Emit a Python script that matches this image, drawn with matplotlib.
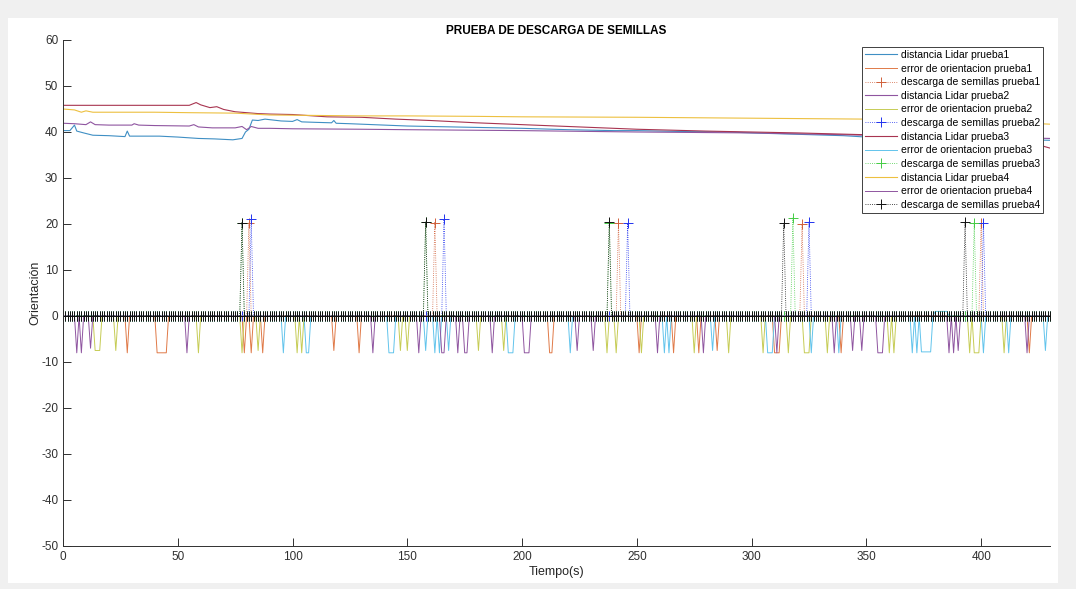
import numpy as np
import matplotlib
matplotlib.use("Agg")
import matplotlib.pyplot as plt
from matplotlib.patches import Rectangle

plt.rcParams['font.family'] = ['Liberation Sans', 'DejaVu Sans']
plt.rcParams['axes.unicode_minus'] = False

# tiempo de muestreo (s)
t = np.arange(0, 431)

# distancia lidar: puntos (tiempo, distancia)
lidar1_t = [0, 3, 5, 6, 9, 13, 20, 27, 28, 29, 35, 42, 50, 59, 66, 74, 78, 79.5, 81, 82.5, 85, 88, 95, 100,
            102, 104, 110, 117, 118, 119, 125, 130, 140, 150, 170, 190, 200, 220, 240, 250, 270, 290, 300,
            320, 340, 350, 370, 390, 400, 420, 430]
lidar1_v = [40.3, 40.3, 41.5, 40.2, 39.8, 39.3, 39.2, 39.0, 40.2, 39.1, 39.1, 39.1, 38.9, 38.6, 38.5, 38.3,
            38.6, 40.0, 40.6, 42.6, 42.5, 42.8, 42.4, 42.3, 42.7, 42.2, 42.1, 42.0, 42.5, 41.9, 41.8, 41.7,
            41.5, 41.3, 41.1, 40.9, 40.8, 40.5, 40.3, 40.3, 40.1, 40.0, 39.8, 39.5, 39.2, 38.9, 38.7, 38.5,
            38.4, 38.3, 38.2]

lidar2_t = [0, 5, 10, 12, 14, 20, 30, 31, 33, 40, 55, 57, 59, 65, 75, 78, 80, 82, 85, 90, 100, 130, 150,
            200, 250, 300, 350, 400, 430]
lidar2_v = [41.9, 41.8, 41.6, 42.2, 41.6, 41.5, 41.5, 41.8, 41.5, 41.4, 41.3, 41.6, 41.1, 40.9, 40.9, 41.2,
            40.5, 41.2, 40.8, 40.8, 40.7, 40.6, 40.5, 40.3, 40.0, 39.8, 39.3, 38.9, 38.6]

lidar3_t = [0, 20, 40, 55, 58, 60, 62, 64, 67, 70, 75, 80, 85, 90, 100, 115, 130, 145, 160, 180, 200, 220,
            250, 280, 300, 320, 350, 380, 400, 410, 420, 425, 430]
lidar3_v = [45.8, 45.8, 45.8, 45.8, 46.4, 45.9, 45.6, 45.3, 45.5, 44.9, 44.4, 44.2, 44.0, 43.9, 43.8, 43.3,
            43.2, 42.8, 42.5, 42.0, 41.6, 41.2, 40.6, 40.2, 40.0, 39.8, 39.4, 39.0, 38.6, 38.5, 38.0, 37.2,
            36.5]

lidar4_t = [0, 5, 8, 10, 13, 20, 40, 55, 75, 90, 110, 130, 150, 180, 200, 250, 300, 350, 400, 430]
lidar4_v = [45.0, 44.8, 44.3, 44.6, 44.3, 44.3, 44.3, 44.2, 44.1, 43.7, 43.6, 43.5, 43.5, 43.4, 43.3, 43.2,
            43.0, 42.8, 42.4, 41.7]

# error de orientacion: caidas (inicio, fin, valor)
error1_dips = [(28, 28, -8), (41, 45, -8), (79, 79, -8), (82, 82, -8), (87, 87, -8), (118, 118, -7.5),
               (129, 129, -8), (212, 213, -8), (251, 251, -8), (266, 266, -8), (277, 277, -8),
               (285, 285, -7.5), (310, 312, -8), (339, 339, -8), (421, 421, -8)]
error2_dips = [(14, 16, -7.5), (23, 23, -7.5), (59, 59, -8), (78, 78, -8), (85, 85, -7.5), (102, 102, -8),
               (104, 104, -8), (147, 147, -7.5), (150, 150, -7.5), (181, 181, -7.5), (192, 192, -7.5),
               (237, 237, -8), (241, 241, -8), (252, 252, -8), (275, 275, -8), (290, 290, -8),
               (305, 305, -8), (316, 316, -8), (323, 325, -8), (333, 333, -8), (360, 360, -8),
               (362, 362, -8), (395, 395, -8), (397, 399, -8), (410, 410, -8)]
error3_dips = [(96, 96, -8), (106, 107, -8), (142, 144, -8), (158, 158, -7.5), (162, 162, -8),
               (164, 164, -8), (168, 168, -7.5), (194, 196, -8), (221, 221, -8), (262, 262, -8),
               (264, 264, -8), (283, 283, -7.5), (307, 309, -8), (326, 326, -8), (338, 338, -8),
               (370, 370, -8), (372, 372, -8), (374, 378, -7.8), (401, 401, -8), (412, 412, -8),
               (428, 428, -7.5)]
error3_bumps = [(380, 385, 1.0)]
error4_dips = [(6, 6, -8), (8, 8, -8), (12, 12, -7), (54, 54, -8), (135, 135, -8), (155, 155, -8),
               (165, 166, -8), (172, 172, -8), (175, 176, -8), (187, 187, -8), (201, 203, -8),
               (224, 224, -7.5), (231, 231, -7.5), (259, 259, -8), (279, 279, -8), (311, 311, -8),
               (336, 336, -8), (344, 344, -7.5), (348, 348, -7.5), (355, 357, -8), (386, 386, -8),
               (388, 388, -8), (390, 390, -7.5), (420, 420, -8)]

# descarga de semillas: (tiempo, valor)
descarga1 = [(81, 20.3), (162, 20.3), (242, 20.3), (322, 20.0), (400, 20.3)]
descarga2 = [(82, 21.0), (166, 21.0), (246, 20.2), (325, 20.5), (401, 20.3)]
descarga3 = [(78, 20.3), (158, 20.5), (238, 20.3), (318, 21.3), (397, 20.3)]
descarga4 = [(78, 20.3), (158, 20.5), (238, 20.5), (314, 20.3), (393, 20.5)]


def serie_error(dips):
    y = np.zeros(len(t))
    for a, b, v in dips:
        y[a:b + 1] = v
    return y


def serie_descarga(eventos):
    y = np.zeros(len(t))
    for tt, v in eventos:
        y[int(round(tt))] = v
    return y


fig = plt.figure(figsize=(10.76, 5.89), dpi=100, facecolor='#f0f0f0')
fig.patches.append(Rectangle((8 / 1076, 6 / 589), 1050 / 1076, 565 / 589, transform=fig.transFigure,
                             facecolor='white', edgecolor='none', zorder=-1))
ax = fig.add_axes([63 / 1076, 43 / 589, 987 / 1076, 506 / 589])

pruebas = [
    (lidar1_t, lidar1_v, error1_dips, [], descarga1, '#3f8fc4', '#e07a48', '#d0603a'),
    (lidar2_t, lidar2_v, error2_dips, [], descarga2, '#8f55a0', '#c6cc55', '#2233ee'),
    (lidar3_t, lidar3_v, error3_dips, error3_bumps, descarga3, '#a83450', '#62c4ec', '#44cc44'),
    (lidar4_t, lidar4_v, error4_dips, [], descarga4, '#edc040', '#8f55a0', '#111111'),
]

for i, (lt, lv, dips, bumps, desc, c_lidar, c_err, c_desc) in enumerate(pruebas, start=1):
    ax.plot(lt, lv, color=c_lidar, lw=0.8, label=f'distancia Lidar prueba{i}')
    ax.plot(t, serie_error(dips + bumps), color=c_err, lw=0.7, label=f'error de orientacion prueba{i}')
    ax.plot(t, serie_descarga(desc), color=c_desc, lw=0.6, ls=':', marker='+', markersize=6.5,
            markeredgewidth=0.7, label=f'descarga de semillas prueba{i}')

ax.set_xlim(0, 430)
ax.set_ylim(-50, 60)
ax.set_xticks(np.arange(0, 401, 50))
ax.set_yticks(np.arange(-50, 61, 10))
ax.tick_params(direction='in', length=6, width=0.7, colors='#303030', labelsize=8.5)
for side in ['top', 'right']:
    ax.spines[side].set_visible(False)
for side in ['left', 'bottom']:
    ax.spines[side].set_color('#303030')
    ax.spines[side].set_linewidth(0.7)

ax.set_title('PRUEBA DE DESCARGA DE SEMILLAS', fontsize=8.5, fontweight='bold', pad=4)
ax.set_xlabel('Tiempo(s)', fontsize=9, color='#262626', labelpad=2)
ax.set_ylabel('Orientación', fontsize=9, color='#262626', labelpad=0)

leg = ax.legend(loc='upper right', fontsize=7.5, frameon=True, fancybox=False, framealpha=1,
                edgecolor='#404040', handlelength=3.0, labelspacing=0.35, borderpad=0.3,
                borderaxespad=0.65, handletextpad=0.4)
leg.get_frame().set_linewidth(0.7)

fig.savefig('out.png', dpi=100, facecolor=fig.get_facecolor())
